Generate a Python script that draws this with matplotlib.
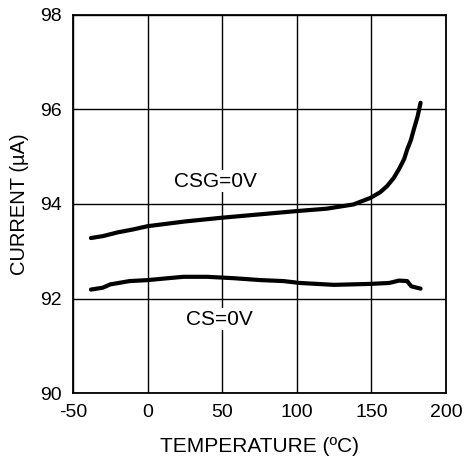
import matplotlib
matplotlib.use("Agg")
import matplotlib.pyplot as plt

plt.rcParams["font.family"] = ["Liberation Sans", "DejaVu Sans"]
plt.rcParams["axes.unicode_minus"] = False

# CSG=0V curve
csg_temp = [-38, -30, -20, -10, 0, 10, 25, 50, 75, 100, 120, 138, 149.5, 156, 160.6, 165, 168.4, 172, 174, 176.5, 178.5, 181, 183]
csg_current = [93.28, 93.32, 93.40, 93.46, 93.53, 93.57, 93.63, 93.71, 93.78, 93.85, 93.90, 93.99, 94.13, 94.25, 94.38, 94.55, 94.73, 94.95, 95.15, 95.35, 95.58, 95.85, 96.14]

# CS=0V curve
cs_temp = [-38, -30, -25, -12, 0, 10, 24, 40, 58, 76, 91, 102, 125, 149, 162, 168.5, 174, 176.7, 183]
cs_current = [92.19, 92.23, 92.30, 92.37, 92.39, 92.42, 92.46, 92.46, 92.43, 92.39, 92.37, 92.33, 92.29, 92.31, 92.33, 92.38, 92.37, 92.26, 92.21]

x_ticks = [-50, 0, 50, 100, 150, 200]
y_ticks = [90, 92, 94, 96, 98]

fig = plt.figure(figsize=(4.65, 4.62), dpi=100)
ax = fig.add_axes([0.157, 0.149, 0.802, 0.819])

ax.plot(csg_temp, csg_current, color="black", lw=3, solid_capstyle="round", zorder=3)
ax.plot(cs_temp, cs_current, color="black", lw=3, solid_capstyle="round", zorder=3)

ax.set_xlim(-50, 200)
ax.set_ylim(90, 98)
ax.set_xticks(x_ticks)
ax.set_yticks(y_ticks)
ax.grid(True, color="black", lw=1)
ax.tick_params(length=0, labelsize=14, pad=8)
for s in ax.spines.values():
    s.set_linewidth(1.3)

ax.text(45.6, 94.48, "CSG=0V", ha="center", va="center", fontsize=15,
        bbox=dict(facecolor="white", edgecolor="none", pad=1), zorder=4)
ax.text(47.8, 91.56, "CS=0V", ha="center", va="center", fontsize=15,
        bbox=dict(facecolor="white", edgecolor="none", pad=1), zorder=4)

ax.set_xlabel("TEMPERATURE (ºC)", fontsize=15, labelpad=11)
ax.set_ylabel("CURRENT (µA)", fontsize=14.5, labelpad=8)

fig.savefig("out.png", dpi=100)
